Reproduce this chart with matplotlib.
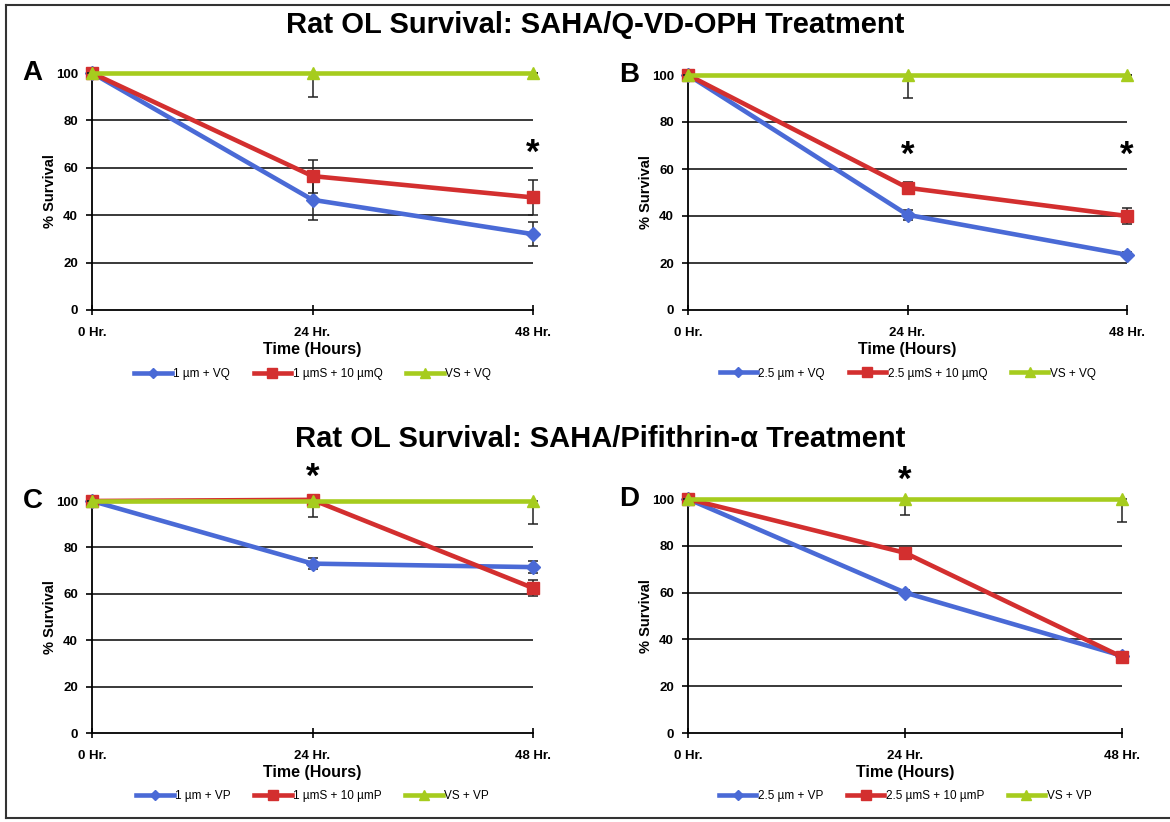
import matplotlib
matplotlib.use('Agg')
import matplotlib.pyplot as plt
from matplotlib.lines import Line2D
from matplotlib import rcParams
rcParams.update({'font.family': ['Liberation Sans', 'DejaVu Sans']})

# ---------------- data ----------------
hours = ['0 Hr.', '24 Hr.', '48 Hr.']

# panel A : SAHA / Q-VD-OPH, 1 um
a_labels = ['1 µm + VQ', '1 µmS + 10 µmQ', 'VS + VQ']
a_blue = [100, 46.5, 32]
a_blue_err = [0, 8.5, 5]
a_red = [100, 56.5, 47.5]
a_red_err = [0, 7, 7.5]
a_green = [100, 100, 100]
a_green_err = [0, 10, 0]
a_stars = [(2, 66)]

# panel B : SAHA / Q-VD-OPH, 2.5 um
b_labels = ['2.5 µm + VQ', '2.5 µmS + 10 µmQ', 'VS + VQ']
b_blue = [100, 40.5, 23.5]
b_blue_err = [0, 2, 1]
b_red = [100, 52, 40]
b_red_err = [0, 2.5, 3.5]
b_green = [100, 100, 100]
b_green_err = [0, 10, 0]
b_stars = [(1, 66), (2, 66)]

# panel C : SAHA / Pifithrin-a, 1 um
c_labels = ['1 µm + VP', '1 µmS + 10 µmP', 'VS + VP']
c_blue = [100, 73, 71.5]
c_blue_err = [0, 2.5, 2.5]
c_red = [100, 100.5, 62.5]
c_red_err = [0, 1, 3.5]
c_green = [100, 100, 100]
c_green_err = [0, 7, 10]
c_stars = [(1, 110)]

# panel D : SAHA / Pifithrin-a, 2.5 um
d_labels = ['2.5 µm + VP', '2.5 µmS + 10 µmP', 'VS + VP']
d_blue = [100, 60, 33]
d_blue_err = [0, 1, 1]
d_red = [100, 77, 32.5]
d_red_err = [0, 1.5, 1.5]
d_green = [100, 100, 100]
d_green_err = [0, 7, 10]
d_stars = [(1, 108)]

BLUE = '#4a6ad6'
RED = '#d32f2f'
GREEN = '#a6cc1e'
W, H = 1170, 822


def px_axes(fig, left, right, top, bottom):
    return fig.add_axes([left / W, 1 - bottom / H, (right - left) / W, (bottom - top) / H])


def panel(ax, letter, labels, blue, blue_err, red, red_err, green, green_err, stars):
    x = list(range(len(hours)))
    ax.set_xlim(0, 2)
    ax.set_ylim(0, 100)
    for yy in [20, 40, 60, 80, 100]:
        ax.axhline(yy, color='#2a2a2a', lw=1.3, zorder=1)

    specs = [(blue, blue_err, BLUE, 'D', 7),
             (red, red_err, RED, 's', 9),
             (green, green_err, GREEN, '^', 8)]
    for i, (vals, err, col, mk, ms) in enumerate(specs):
        if col == GREEN:
            yerr = [err, [0] * len(err)]
        else:
            yerr = err
        ax.errorbar(x, vals, yerr=yerr, fmt='none', ecolor='#222222',
                    elinewidth=1.1, capsize=3.5, capthick=1.1, zorder=3 + i, clip_on=False)
        ax.plot(x, vals, color=col, lw=3.3, marker=mk, ms=ms, mec=col,
                zorder=4 + i, clip_on=False, label=labels[i])

    for sx, sy in stars:
        ax.text(sx, sy, '*', ha='center', va='center', fontsize=25,
                fontweight='bold', clip_on=False)

    ax.set_xticks(x)
    ax.set_xticklabels(hours, fontsize=9.5, fontweight='bold')
    ax.set_yticks([0, 20, 40, 60, 80, 100])
    ax.set_yticklabels(['0', '20', '40', '60', '80', '100'], fontsize=9.5, fontweight='bold')
    ax.tick_params(axis='x', direction='inout', length=7, width=1.2, pad=9)
    ax.tick_params(axis='y', direction='out', length=4, width=1.2, pad=6)
    for s in ['top', 'right']:
        ax.spines[s].set_visible(False)
    ax.spines['left'].set_linewidth(1.3)
    ax.spines['bottom'].set_linewidth(1.3)
    ax.set_xlabel('Time (Hours)', fontsize=11.5, fontweight='bold', labelpad=2)
    ax.set_ylabel('% Survival', fontsize=10.5, fontweight='bold', labelpad=-1)
    ax.text(-0.135, 1.0, letter, transform=ax.transAxes, fontsize=20,
            fontweight='bold', ha='center', va='center')

    handles = [Line2D([], [], color=c, lw=3.3, marker=m, ms=ms2, mec=c)
               for c, m, ms2 in [(BLUE, 'D', 5.5), (RED, 's', 7.5), (GREEN, '^', 6.5)]]
    ax.legend(handles, labels, loc='upper center', bbox_to_anchor=(0.5, -0.2),
              ncol=3, frameon=False, fontsize=8.5, handlelength=3.2,
              handletextpad=0.1, columnspacing=2.0)


fig = plt.figure(figsize=(W / 100, H / 100), dpi=100)

ax_a = px_axes(fig, 92, 533, 73, 310)
ax_b = px_axes(fig, 688, 1127, 75, 310)
ax_c = px_axes(fig, 92, 533, 501, 733)
ax_d = px_axes(fig, 688, 1122, 499, 733)

panel(ax_a, 'A', a_labels, a_blue, a_blue_err, a_red, a_red_err, a_green, a_green_err, a_stars)
panel(ax_b, 'B', b_labels, b_blue, b_blue_err, b_red, b_red_err, b_green, b_green_err, b_stars)
panel(ax_c, 'C', c_labels, c_blue, c_blue_err, c_red, c_red_err, c_green, c_green_err, c_stars)
panel(ax_d, 'D', d_labels, d_blue, d_blue_err, d_red, d_red_err, d_green, d_green_err, d_stars)

fig.text(595 / W, 1 - 25 / H, 'Rat OL Survival: SAHA/Q-VD-OPH Treatment',
         ha='center', va='center', fontsize=21, fontweight='bold')
fig.text(600 / W, 1 - 439 / H, 'Rat OL Survival: SAHA/Pifithrin-α Treatment',
         ha='center', va='center', fontsize=21, fontweight='bold')

# scanned frame around the figure
frame = dict(color='#333333', lw=1.5, transform=fig.transFigure)
fig.add_artist(Line2D([6 / W, 6 / W], [1 - 5 / H, 1 - 818 / H], **frame))
fig.add_artist(Line2D([6 / W, 1169 / W], [1 - 5 / H, 1 - 5 / H], **frame))
fig.add_artist(Line2D([6 / W, 1169 / W], [1 - 818 / H, 1 - 818 / H], **frame))

plt.savefig('out.png', dpi=100)
plt.close(fig)
